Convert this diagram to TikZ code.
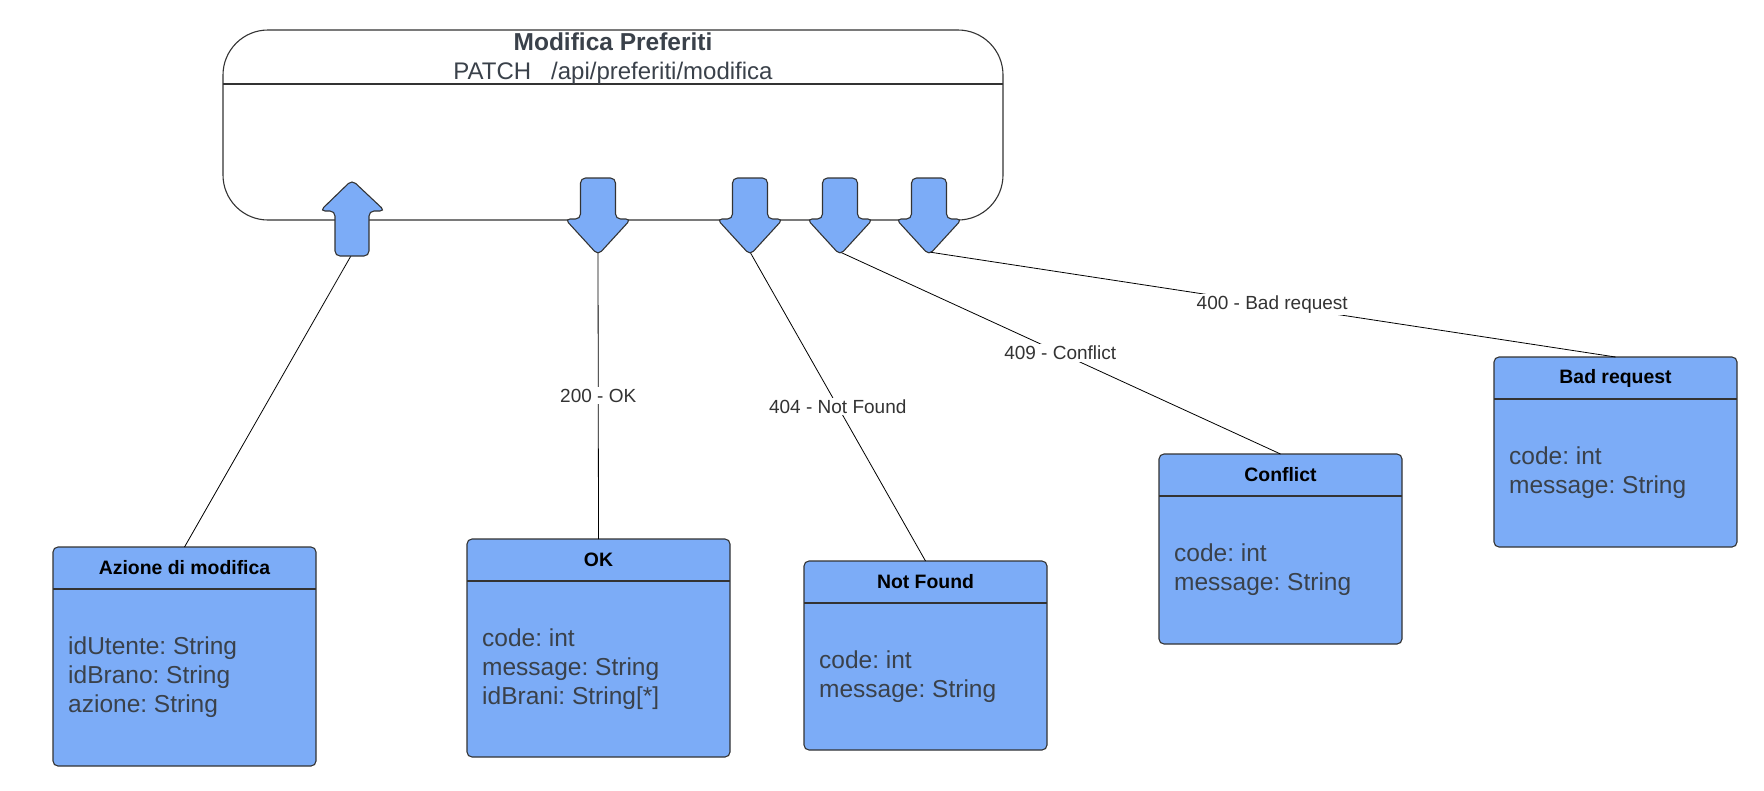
\documentclass[tikz,border=0pt]{standalone}
\usepackage{fontspec}
\setmainfont{Liberation Sans}
\usetikzlibrary{positioning}
\usepackage{xcolor}
\definecolor{boxblue}{RGB}{124,172,247}
\definecolor{edgegray}{RGB}{51,51,51}
\definecolor{textgray}{RGB}{58,65,74}
\frenchspacing

\tikzset{
  classbox/.style={draw=edgegray, fill=boxblue, line width=1.1pt, rounded corners=5pt, inner sep=0pt, outer sep=0pt},
  hdr/.style={font=\fontsize{19.4}{23}\selectfont\bfseries, text=black, inner sep=0pt},
  attrs/.style={font=\fontsize{24.5}{29}\selectfont, text=textgray, align=left, anchor=west, inner sep=0pt},
  lbl/.style={font=\fontsize{19}{22}\selectfont, text=edgegray, fill=white, inner sep=2pt},
  link/.style={draw=black, line width=0.8pt},
  blockarr/.style={draw=edgegray, fill=boxblue, line width=1.1pt, rounded corners=5pt},
  sepline/.style={draw=edgegray, line width=1.1pt},
}

\begin{document}
\begin{tikzpicture}[x=1pt, y=-1pt]
\useasboundingbox (0,0) rectangle (1764,790);

% endpoint box
\node[draw=edgegray, line width=1.1pt, rounded corners=45pt, minimum width=780pt, minimum height=190pt, outer sep=0pt] (api) at (613,125) {};
\draw[sepline] ([yshift=-54pt]api.north west) -- ([yshift=-54pt]api.north east);
\node[font=\fontsize{24.5}{28}\selectfont\bfseries, text=textgray, inner sep=0pt] (apiT) at (613,42) {Modifica Preferiti};
\node[font=\fontsize{24}{28}\selectfont, text=textgray, inner sep=0pt] (apiP) at (613,73) {PATCH\hspace{20pt}/api/preferiti/modifica};

% classes
\node[classbox, minimum width=263pt, minimum height=219pt] (az) at (184.5,656.5) {};
\node[classbox, minimum width=263pt, minimum height=218pt] (ok) at (598.5,648) {};
\node[classbox, minimum width=243pt, minimum height=189pt] (nf) at (925.5,655.5) {};
\node[classbox, minimum width=243pt, minimum height=190pt] (cf) at (1280.5,549) {};
\node[classbox, minimum width=243pt, minimum height=190pt] (br) at (1615.5,452) {};

\foreach \b in {az,ok,nf,cf,br}
  \draw[sepline] ([yshift=-42pt]\b.north west) -- ([yshift=-42pt]\b.north east);

\node[hdr] (azT) at ([yshift=-21pt]az.north) {Azione di modifica};
\node[hdr] (okT) at ([yshift=-21pt]ok.north) {OK};
\node[hdr] (nfT) at ([yshift=-21pt]nf.north) {Not Found};
\node[hdr] (cfT) at ([yshift=-21pt]cf.north) {Conflict};
\node[hdr] (brT) at ([yshift=-21pt]br.north) {Bad request};

\node[attrs] (azB) at ([xshift=15pt,yshift=-21pt]az.west) {idUtente: String\\idBrano: String\\azione: String};
\node[attrs] (okB) at ([xshift=15pt,yshift=-21pt]ok.west) {code: int\\message: String\\idBrani: String[*]};
\node[attrs] (nfB) at ([xshift=15pt,yshift=-21pt]nf.west) {code: int\\message: String};
\node[attrs] (cfB) at ([xshift=15pt,yshift=-21pt]cf.west) {code: int\\message: String};
\node[attrs] (brB) at ([xshift=15pt,yshift=-21pt]br.west) {code: int\\message: String};

% arrow ends
\coordinate (inA) at (352,254);
\foreach \c/\n in {598/okA, 750/nfA, 840/cfA, 929/brA}
  \coordinate (\n) at (\c,252);

% connectors
\draw[link] (inA) -- (az.north);
\draw[link] (okA) -- node[lbl] (okL) {200 - OK} (ok.north);
\draw[link] (nfA) -- node[lbl] (nfL) {404 - Not Found} (nf.north);
\draw[link] (cfA) -- node[lbl] (cfL) {409 - Conflict} (cf.north);
\draw[link] (brA) -- node[lbl] (brL) {400 - Bad request} (br.north);

% block arrows
\draw[blockarr] (335,256) -- (335,211) -- (320,211) -- (352,180) -- (385,211) -- (369,211) -- (369,256) -- cycle;
\foreach \c in {598,750,840,929}
  \draw[blockarr] (\c-17.5,178) -- (\c+17.5,178) -- (\c+17.5,219) -- (\c+33,219) -- (\c,255) -- (\c-33,219) -- (\c-17.5,219) -- cycle;
\end{tikzpicture}
\end{document}
